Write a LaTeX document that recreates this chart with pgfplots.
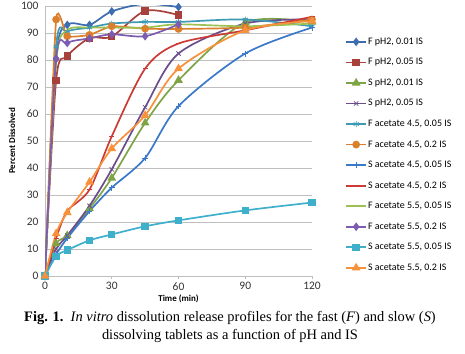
\documentclass[border=0pt]{standalone}
\usepackage{pgfplots}
\pgfplotsset{compat=1.18}
\usepackage{fontspec}
\setmainfont{Carlito}
\newfontfamily\capfont{Liberation Serif}
\definecolor{c1}{HTML}{3D6CB0}
\definecolor{c2}{HTML}{A8403C}
\definecolor{c3}{HTML}{7FA446}
\definecolor{c4}{HTML}{6A4E8C}
\definecolor{c5}{HTML}{3D9AB2}
\definecolor{c6}{HTML}{DA7F2C}
\definecolor{c7}{HTML}{3A78C9}
\definecolor{c8}{HTML}{CC3A36}
\definecolor{c9}{HTML}{9BC153}
\definecolor{c10}{HTML}{7B5CB0}
\definecolor{c11}{HTML}{3FB0CC}
\definecolor{c12}{HTML}{F7913A}
\definecolor{gridc}{HTML}{BFBFBF}
\begin{document}
\begin{tikzpicture}[x=1bp,y=1bp]
\useasboundingbox (0,0) rectangle (465,353);
\begin{axis}[
  at={(45bp,77bp)}, anchor=south west,
  scale only axis, width=267bp, height=270bp,
  xmin=0, xmax=120, ymin=0, ymax=100,
  xtick={0,30,60,90,120}, ytick={0,10,...,100},
  ymajorgrids, grid style={gridc, line width=0.9pt},
  axis line style={gridc, line width=0.9pt},
  axis x line*=bottom, axis y line*=left,
  x axis line style={-}, y axis line style={-},
  xtick style={gridc, line width=0.9pt}, ytick style={draw=none},
  tick align=outside, major tick length=3bp,
  ticklabel style={font=\fontsize{11.5}{13}\selectfont, text=black!80},
  /pgf/number format/assume math mode=true,
  xlabel={\bfseries Time (min)}, ylabel={\bfseries Percent Dissolved},
  label style={font=\fontsize{9}{11}\selectfont},
  xlabel style={yshift=2bp}, ylabel style={yshift=-1bp},
  every axis plot/.append style={line width=1.7pt, smooth, tension=0.5},
  legend cell align=left,
  legend image code/.code={\draw[mark repeat=2,mark phase=2] plot coordinates {(0bp,0bp) (10bp,0bp) (20bp,0bp)};},
  legend style={at={(1.124,0.89)}, anchor=north west, draw=none, fill=none,
    font=\fontsize{10}{12}\selectfont, row sep=8.6bp, inner sep=0pt,
    nodes={inner xsep=1bp}},
]
\addplot[c1, mark=diamond*, mark size=3pt] coordinates {(0,0)(5,80.5)(10,93)(20,93)(30,98)(45,100.8)(60,99.6)};
\addlegendentry{F pH2, 0.01 IS}
\addplot[c2, mark=square*, mark size=2.9pt] coordinates {(0,0)(5,72.5)(10,81.4)(20,88.1)(30,88.7)(45,98.2)(60,96.6)};
\addlegendentry{F pH2, 0.05 IS}
\addplot[c3, mark=triangle*, mark size=3.4pt] coordinates {(0,0)(5,12)(10,15)(20,25)(30,36.3)(45,56.7)(60,72.5)(90,93.9)(120,94)};
\addlegendentry{S pH2, 0.01 IS}
\addplot[c4, mark=x, mark size=3pt, mark options={line width=0.8pt}] coordinates {(0,0)(5,10)(10,15)(20,26)(30,39.5)(45,62.5)(60,82.4)(90,93.5)(120,95)};
\addlegendentry{S pH2, 0.05 IS}
\addplot[c5, mark=asterisk, mark size=3pt, mark options={line width=0.8pt}] coordinates {(0,0)(5,85)(10,90.5)(20,92)(30,93.5)(45,94.1)(60,94.1)(90,95)(120,92.5)};
\addlegendentry{F acetate 4.5, 0.05 IS}
\addplot[c6, mark=*, mark size=3pt, tension=0.3] coordinates {(0,0)(5,95)(10,88.8)(20,89.3)(30,92.5)(45,91.6)(60,91.5)(90,92)(120,95)};
\addlegendentry{F acetate 4.5, 0.2 IS}
\addplot[c7, mark=+, mark size=3pt, mark options={line width=0.8pt}] coordinates {(0,0)(5,8)(10,14)(20,24)(30,32.7)(45,43.7)(60,62.9)(90,82.4)(120,92)};
\addlegendentry{S acetate 4.5, 0.05 IS}
\addplot[c8, mark=-, mark size=2.5pt, mark options={line width=0.8pt}] coordinates {(0,0)(5,14)(10,24)(20,32)(30,51.7)(45,76.8)(60,86.1)(90,91)(120,96)};
\addlegendentry{S acetate 4.5, 0.2 IS}
\addplot[c9] coordinates {(0,0)(5,79)(10,91)(20,92)(30,92)(45,92)(60,93.2)(90,92.5)(120,93.5)};
\addlegendentry{F acetate 5.5, 0.05 IS}
\addplot[c10, mark=diamond*, mark size=3pt] coordinates {(0,0)(5,80.4)(10,86.3)(20,88)(30,89.5)(45,88.8)(60,93.2)};
\addlegendentry{F acetate 5.5, 0.2 IS}
\addplot[c11, mark=square*, mark size=2.9pt] coordinates {(0,0)(5,7.3)(10,9.6)(20,13.2)(30,15.4)(45,18.4)(60,20.6)(90,24.3)(120,27.2)};
\addlegendentry{S acetate 5.5, 0.05 IS}
\addplot[c12, mark=triangle*, mark size=3.4pt] coordinates {(0,0)(5,15.7)(10,23.5)(20,34.8)(30,47.2)(45,59.5)(60,76.8)(90,91)(120,94.4)};
\addlegendentry{S acetate 5.5, 0.2 IS}
\end{axis}
\node[font=\capfont\fontsize{14.5}{16}\selectfont, anchor=center] at (230,353-318) {\textbf{Fig. 1.}\enspace\textit{In vitro} dissolution release profiles for the fast (\textit{F}) and slow (\textit{S})};
\node[font=\capfont\fontsize{14.5}{16}\selectfont, anchor=center] at (230,353-336) {dissolving tablets as a function of pH and IS};
\end{tikzpicture}
\end{document}
